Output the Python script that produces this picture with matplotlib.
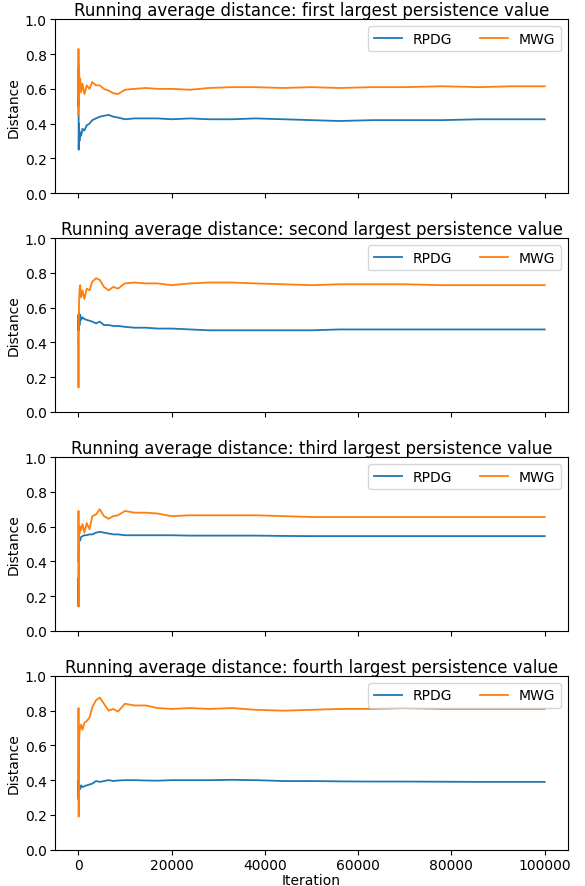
import numpy as np
import matplotlib
matplotlib.use("Agg")
import matplotlib.pyplot as plt

# Iteration grid (denser at the start where the running average jumps around)
iterations = [0, 40, 80, 150, 250, 400, 600, 900, 1300, 1800, 2400, 3000, 3800, 4600,
              5500, 6500, 7500, 8500, 10000, 12000, 14500, 17000, 20000, 24000, 28000,
              33000, 38000, 44000, 50000, 56000, 63000, 70000, 78000, 86000, 93000, 100000]

titles = ['first', 'second', 'third', 'fourth']

rpdg_1 = [0.50, 0.73, 0.25, 0.40, 0.30, 0.35, 0.33, 0.37, 0.36, 0.39, 0.40, 0.42, 0.43, 0.44,
          0.445, 0.45, 0.44, 0.435, 0.425, 0.43, 0.43, 0.43, 0.425, 0.43, 0.425,
          0.425, 0.43, 0.425, 0.42, 0.415, 0.42, 0.42, 0.42, 0.425, 0.425, 0.425]
mwg_1 = [0.45, 0.83, 0.55, 0.74, 0.62, 0.66, 0.58, 0.63, 0.57, 0.62, 0.60, 0.64, 0.62, 0.62,
         0.60, 0.59, 0.575, 0.57, 0.595, 0.60, 0.605, 0.60, 0.60, 0.595, 0.605,
         0.61, 0.61, 0.605, 0.61, 0.605, 0.61, 0.61, 0.615, 0.61, 0.615, 0.615]

rpdg_2 = [0.40, 0.56, 0.47, 0.57, 0.50, 0.56, 0.53, 0.545, 0.535, 0.53, 0.525, 0.52, 0.51, 0.52,
          0.50, 0.50, 0.495, 0.495, 0.49, 0.485, 0.485, 0.48, 0.48, 0.475, 0.47,
          0.47, 0.47, 0.47, 0.47, 0.475, 0.475, 0.475, 0.475, 0.475, 0.475, 0.475]
mwg_2 = [0.40, 0.14, 0.45, 0.62, 0.70, 0.73, 0.66, 0.70, 0.65, 0.71, 0.70, 0.75, 0.77, 0.76,
         0.72, 0.70, 0.72, 0.71, 0.74, 0.745, 0.74, 0.74, 0.73, 0.74, 0.745,
         0.745, 0.74, 0.735, 0.73, 0.735, 0.735, 0.735, 0.73, 0.73, 0.73, 0.73]

rpdg_3 = [0.30, 0.14, 0.42, 0.50, 0.53, 0.52, 0.54, 0.545, 0.55, 0.55, 0.555, 0.555, 0.565, 0.57,
          0.565, 0.56, 0.555, 0.555, 0.55, 0.55, 0.55, 0.55, 0.55, 0.548, 0.548,
          0.548, 0.548, 0.546, 0.545, 0.545, 0.545, 0.545, 0.545, 0.545, 0.545, 0.545]
mwg_3 = [0.40, 0.69, 0.14, 0.60, 0.56, 0.60, 0.58, 0.615, 0.565, 0.62, 0.585, 0.66, 0.67, 0.70,
         0.66, 0.645, 0.66, 0.665, 0.69, 0.68, 0.68, 0.675, 0.66, 0.665, 0.665,
         0.665, 0.665, 0.66, 0.655, 0.655, 0.655, 0.655, 0.655, 0.655, 0.655, 0.655]

rpdg_4 = [0.46, 0.29, 0.40, 0.33, 0.37, 0.35, 0.37, 0.36, 0.365, 0.37, 0.375, 0.38, 0.395, 0.39,
          0.395, 0.40, 0.395, 0.398, 0.40, 0.40, 0.398, 0.397, 0.40, 0.40, 0.40,
          0.402, 0.40, 0.395, 0.395, 0.393, 0.392, 0.392, 0.391, 0.39, 0.39, 0.39]
mwg_4 = [0.45, 0.815, 0.19, 0.60, 0.68, 0.70, 0.72, 0.69, 0.73, 0.74, 0.76, 0.82, 0.86, 0.875,
         0.84, 0.80, 0.81, 0.795, 0.84, 0.83, 0.83, 0.815, 0.81, 0.815, 0.81,
         0.815, 0.805, 0.80, 0.805, 0.81, 0.81, 0.815, 0.81, 0.81, 0.81, 0.81]

rpdg = [rpdg_1, rpdg_2, rpdg_3, rpdg_4]
mwg = [mwg_1, mwg_2, mwg_3, mwg_4]

fig, axes = plt.subplots(4, 1, figsize=(5.85, 8.87), dpi=100, sharex=True)
fig.subplots_adjust(left=0.094, right=0.971, top=0.977, bottom=0.041, hspace=0.26)

for i, ax in enumerate(axes):
    ax.plot(iterations, rpdg[i], color='tab:blue', lw=1.3, label='RPDG')
    ax.plot(iterations, mwg[i], color='tab:orange', lw=1.3, label='MWG')
    ax.set_ylim(0, 1)
    ax.set_ylabel('Distance', fontsize=10, labelpad=3)
    ax.set_title('Running average distance: %s largest persistence value' % titles[i],
                 fontsize=12, pad=3)
    ax.tick_params(labelsize=10, pad=2.5)
    ax.legend(loc='upper right', ncol=2, fontsize=10)

axes[-1].set_xlabel('Iteration', fontsize=10, labelpad=0.5)

plt.savefig('out.png')
